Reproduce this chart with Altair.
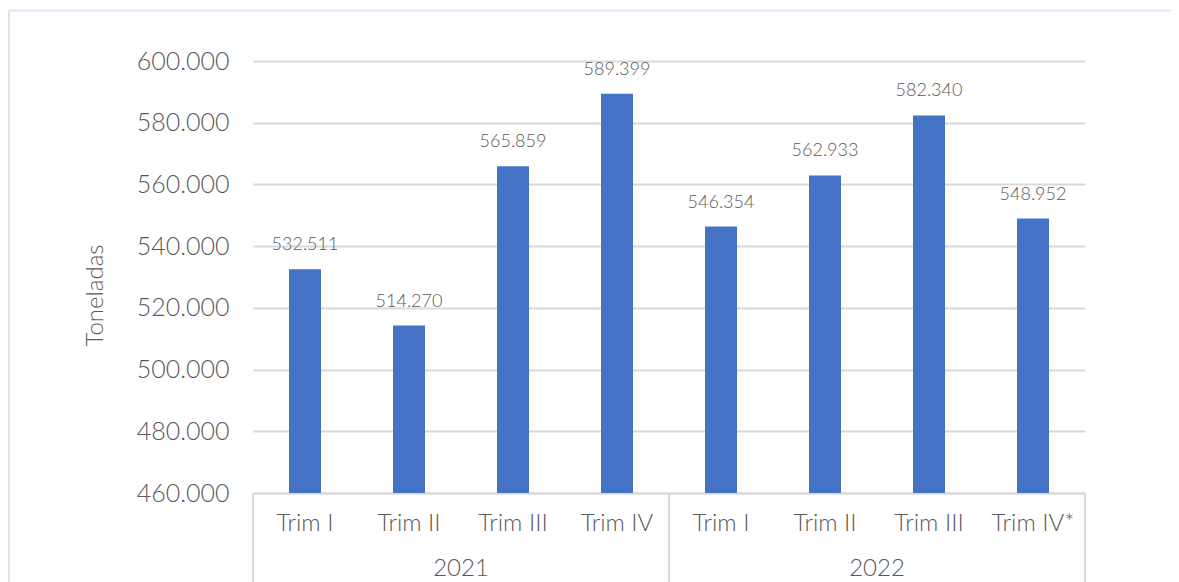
import altair as alt
import pandas as pd

years = ["2021", "2021", "2021", "2021", "2022", "2022", "2022", "2022"]
quarters = ["Trim I", "Trim II", "Trim III", "Trim IV", "Trim I", "Trim II", "Trim III", "Trim IV*"]
values = [532511, 514270, 565859, 589399, 546354, 562933, 582340, 548952]
y_ticks = [460000, 480000, 500000, 520000, 540000, 560000, 580000, 600000]
year_labels = ["2021", "2022"]

keys = [f"{y}|{q}" for y, q in zip(years, quarters)]
df = pd.DataFrame({
    "key": keys,
    "value": values,
    "label": [f"{v:,}".replace(",", ".") for v in values],
})
year_df = pd.DataFrame({"key": [f"{y}|Trim II" for y in year_labels], "year": year_labels})
sep_start = pd.DataFrame({"key": [keys[0], keys[4]]})
sep_end = pd.DataFrame({"key": [keys[-1]]})

FONT = "Lato"
TXT = "#595959"
GRID = "#d9d9d9"
W, H = 832, 432

xscale = alt.Scale(domain=keys, paddingInner=0, paddingOuter=0)
yscale = alt.Scale(domain=[460000, 600000], nice=False, zero=False)

bars = alt.Chart(df).mark_bar(size=32, color="#4472C4", clip=True).encode(
    x=alt.X("key:N", scale=xscale, sort=keys,
            axis=alt.Axis(title=None, labelExpr="split(datum.value, '|')[1]", labelAngle=0,
                          labelFont=FONT, labelFontSize=24, labelFontWeight=300,
                          labelColor=TXT, labelPadding=18, ticks=False,
                          domainColor=GRID, domainWidth=2)),
    y=alt.Y("value:Q", scale=yscale,
            axis=alt.Axis(title="Toneladas", values=y_ticks,
                          labelExpr="replace(format(datum.value, ',.0f'), ',', '.')",
                          labelFont=FONT, labelFontSize=25, labelFontWeight=300,
                          labelColor=TXT, labelPadding=24, ticks=False, domain=False,
                          gridColor=GRID, gridWidth=2,
                          titleFont=FONT, titleFontSize=24, titleFontWeight=300,
                          titleColor=TXT, titleX=-158, titleY=234, titleAngle=-90,
                          titleBaseline="middle", titleAlign="center")),
)

labels = alt.Chart(df).mark_text(font=FONT, fontSize=18, fontWeight=300, color=TXT,
                                 baseline="alphabetic", dy=-19).encode(
    x=alt.X("key:N", scale=xscale, sort=keys),
    y=alt.Y("value:Q", scale=yscale),
    text="label:N",
)

year_text = alt.Chart(year_df).mark_text(font=FONT, fontSize=24, fontWeight=300, color=TXT,
                                         baseline="middle").encode(
    x=alt.X("key:N", scale=xscale, sort=keys, bandPosition=1),
    y=alt.value(H + 76),
    text="year:N",
)

sep1 = alt.Chart(sep_start).mark_rule(color=GRID, strokeWidth=2).encode(
    x=alt.X("key:N", scale=xscale, sort=keys, bandPosition=0),
    y=alt.value(H), y2=alt.value(H + 140),
)
sep2 = alt.Chart(sep_end).mark_rule(color=GRID, strokeWidth=2).encode(
    x=alt.X("key:N", scale=xscale, sort=keys, bandPosition=1),
    y=alt.value(H), y2=alt.value(H + 140),
)

frame = alt.Data(values=[{}])
border_left = alt.Chart(frame).mark_rule(color="#e2e2f4", strokeWidth=2).encode(
    x=alt.value(-244), y=alt.value(-50.5), y2=alt.value(H + 200),
)
border_top = alt.Chart(frame).mark_rule(color="#e2e2f4", strokeWidth=2).encode(
    x=alt.value(-244), x2=alt.value(W + 200), y=alt.value(-50.5),
)

chart = alt.layer(bars, labels, year_text, sep1, sep2, border_left, border_top).properties(
    width=W, height=H,
    autosize=alt.AutoSizeParams(type="none"),
    padding={"left": 245, "top": 53, "right": 86, "bottom": 89},
).configure_view(stroke=None)

chart.save("out.html", embed_options={"renderer": "svg", "actions": False})
